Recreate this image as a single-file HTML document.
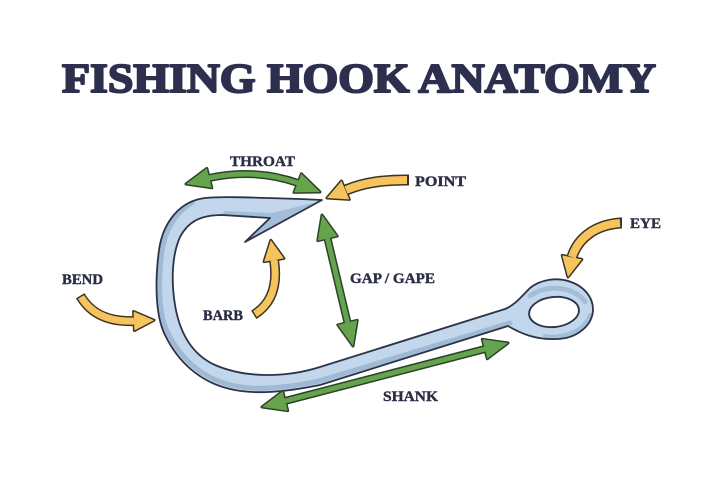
<!DOCTYPE html>
<html><head><meta charset="utf-8">
<style>
html,body{margin:0;padding:0;background:#fff;}
svg{display:block;}
text{font-family:"Liberation Serif",serif;font-weight:bold;}
</style></head>
<body>
<svg width="720" height="480" viewBox="0 0 720 480" xmlns="http://www.w3.org/2000/svg">
<rect width="720" height="480" fill="#ffffff"/>

<!-- Title -->
<text x="62" y="92" font-size="41" fill="#2c2f4e" stroke="#2c2f4e" stroke-width="2" stroke-linejoin="round" textLength="594" lengthAdjust="spacingAndGlyphs">FISHING HOOK ANATOMY</text>

<!-- Hook body -->
<path d="M 322,200 L 300,199 C 260,198 225,196 205,198 C 180,201 163,222 159,250 C 155,280 155,315 165,335 C 178,362 200,382 230,389 C 255,395 285,392 320,385 L 508,326 C 520,333 535,340 556,339 A 37 30 0 0 0 593,309 A 37 30 0 0 0 530,288 C 522,296 515,305 505,309 L 320,367 C 285,378 245,378 215,365 C 193,355 180,335 175,305 C 171,280 172,255 180,237 C 188,222 200,215 222,215 L 270,218 L 245,242 Z" fill="#c2d7ec"/>
<!-- shadow band along outer side -->
<path d="M 192,203 C 174,213 165,232 162,251 C 158,281 158,314 168,333 C 181,359 202,378 231,385 C 256,391 285,388 319,381 L 510,323" fill="none" stroke="#a0b9d5" stroke-width="5" stroke-linecap="round"/>
<!-- top arm lower shading -->
<polygon points="321,201 272,213 224,211 222,215 270,218 245,242" fill="#a5bed8"/>
<!-- ring shading -->
<path d="M 530,296 C 545,284 575,286 585,302" fill="none" stroke="#a5bed8" stroke-width="5" stroke-linecap="round"/>
<path d="M 545,336 C 565,339 585,330 590,315" fill="none" stroke="#a5bed8" stroke-width="4" stroke-linecap="round"/>
<!-- outline -->
<path d="M 322,200 L 300,199 C 260,198 225,196 205,198 C 180,201 163,222 159,250 C 155,280 155,315 165,335 C 178,362 200,382 230,389 C 255,395 285,392 320,385 L 508,326 C 520,333 535,340 556,339 A 37 30 0 0 0 593,309 A 37 30 0 0 0 530,288 C 522,296 515,305 505,309 L 320,367 C 285,378 245,378 215,365 C 193,355 180,335 175,305 C 171,280 172,255 180,237 C 188,222 200,215 222,215 L 270,218 L 245,242 Z" fill="none" stroke="#2d3347" stroke-width="1.8" stroke-linejoin="round"/>
<!-- eye hole -->
<ellipse cx="554" cy="312" rx="25" ry="15" transform="rotate(-6 554 312)" fill="#ffffff" stroke="#2d3347" stroke-width="1.8"/>

<!-- GREEN ARROWS -->
<g stroke-linejoin="round">
<!-- throat -->
<polygon points="186,184 206.8,168.4 211.8,187.8" fill="#65a34c" stroke="#2e4229" stroke-width="3"/>
<polygon points="320,192 301.4,173.8 294,192.4" fill="#65a34c" stroke="#2e4229" stroke-width="3"/>
<path d="M 209,178 Q 255,168 298,183" fill="none" stroke="#2e4229" stroke-width="8"/>
<path d="M 209,178 Q 255,168 298,183" fill="none" stroke="#65a34c" stroke-width="5"/>
<polygon points="186,184 206.8,168.4 211.8,187.8" fill="#65a34c"/>
<polygon points="320,192 301.4,173.8 294,192.4" fill="#65a34c"/>

<!-- gap -->
<polygon points="322,215 337.2,236.1 317.8,240.7" fill="#65a34c" stroke="#2e4229" stroke-width="3"/>
<polygon points="353,346 357.2,320.3 337.8,324.9" fill="#65a34c" stroke="#2e4229" stroke-width="3"/>
<path d="M 327.5,238.4 L 347.5,322.6" fill="none" stroke="#2e4229" stroke-width="8"/>
<path d="M 327.5,238.4 L 347.5,322.6" fill="none" stroke="#65a34c" stroke-width="5"/>
<polygon points="322,215 337.2,236.1 317.8,240.7" fill="#65a34c"/>
<polygon points="353,346 357.2,320.3 337.8,324.9" fill="#65a34c"/>

<!-- shank -->
<polygon points="262,407 287.7,410.7 282.7,391.3" fill="#65a34c" stroke="#2e4229" stroke-width="3"/>
<polygon points="508,343 487.3,358.7 482.3,339.3" fill="#65a34c" stroke="#2e4229" stroke-width="3"/>
<path d="M 285,401 L 485,349" fill="none" stroke="#2e4229" stroke-width="8"/>
<path d="M 285,401 L 485,349" fill="none" stroke="#65a34c" stroke-width="5"/>
<polygon points="262,407 287.7,410.7 282.7,391.3" fill="#65a34c"/>
<polygon points="508,343 487.3,358.7 482.3,339.3" fill="#65a34c"/>
</g>

<!-- YELLOW ARROWS -->
<g stroke-linejoin="round">
<!-- point -->
<polygon points="327,198 349.3,199.4 341.5,181" fill="#f6c35d" stroke="#3b3424" stroke-width="3"/>
<path d="M 409,180 L 407,180 C 385,180 365,182 346,190" fill="none" stroke="#3b3424" stroke-width="11"/>
<path d="M 407,180 C 385,180 365,182 346,190" fill="none" stroke="#f6c35d" stroke-width="8"/>
<polygon points="327,198 349.3,199.4 341.5,181" fill="#f6c35d"/>

<!-- eye -->
<polygon points="568,277 581.8,259.4 562.2,255.4" fill="#f6c35d" stroke="#3b3424" stroke-width="3"/>
<path d="M 622,223 L 620,223 C 595,225 578,238 572,257" fill="none" stroke="#3b3424" stroke-width="11"/>
<path d="M 620,223 C 595,225 578,238 572,257" fill="none" stroke="#f6c35d" stroke-width="8"/>
<polygon points="568,277 581.8,259.4 562.2,255.4" fill="#f6c35d"/>

<!-- barb -->
<polygon points="270.8,240.3 283.9,258.4 264.1,261.6" fill="#f6c35d" stroke="#3b3424" stroke-width="3"/>
<path d="M 253.7,314.8 L 255,314 C 272,303 278,285 274,260" fill="none" stroke="#3b3424" stroke-width="10"/>
<path d="M 255,314 C 272,303 278,285 274,260" fill="none" stroke="#f6c35d" stroke-width="7"/>
<polygon points="270.8,240.3 283.9,258.4 264.1,261.6" fill="#f6c35d"/>

<!-- bend -->
<polygon points="154,320.2 134.4,330.5 133.6,311.5" fill="#f6c35d" stroke="#3b3424" stroke-width="3"/>
<path d="M 80.2,295.7 L 81,297 C 92,315 110,322 134,321" fill="none" stroke="#3b3424" stroke-width="10"/>
<path d="M 81,297 C 92,315 110,322 134,321" fill="none" stroke="#f6c35d" stroke-width="7"/>
<polygon points="154,320.2 134.4,330.5 133.6,311.5" fill="#f6c35d"/>
</g>

<!-- Labels -->
<g fill="#2b2e45" stroke="#2b2e45" stroke-width="0.4" font-size="15">
<text x="230" y="166" textLength="65" lengthAdjust="spacingAndGlyphs">THROAT</text>
<text x="415" y="186" textLength="51" lengthAdjust="spacingAndGlyphs">POINT</text>
<text x="630" y="228" textLength="31" lengthAdjust="spacingAndGlyphs">EYE</text>
<text x="62" y="284" textLength="41" lengthAdjust="spacingAndGlyphs">BEND</text>
<text x="350" y="283" textLength="85" lengthAdjust="spacingAndGlyphs">GAP / GAPE</text>
<text x="203" y="320" textLength="40" lengthAdjust="spacingAndGlyphs">BARB</text>
<text x="383" y="401" textLength="55" lengthAdjust="spacingAndGlyphs">SHANK</text>
</g>
</svg>
</body></html>
